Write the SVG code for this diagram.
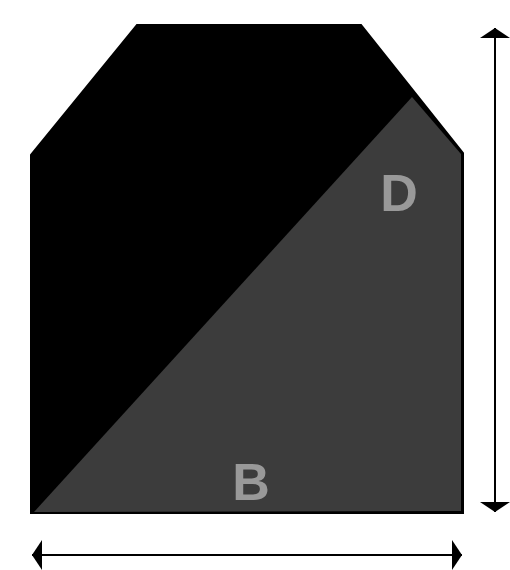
<svg xmlns="http://www.w3.org/2000/svg" width="510" height="570" viewBox="0 0 510 570">
<style>
.lbl{font-family:"Liberation Sans",Arial,sans-serif;font-size:52px;font-weight:bold;fill:#999999;text-anchor:middle}
.dim{stroke:#000;stroke-width:2;fill:none}
</style>
<defs>
<marker id="vh" viewBox="0 0 10 30" refX="10" refY="15" markerWidth="10" markerHeight="30" markerUnits="userSpaceOnUse" orient="auto-start-reverse">
<path d="M0,0 L10,15 L0,30 Z" fill="#000"/>
</marker>
</defs>
<rect width="510" height="570" fill="#fff"/>
<g id="shape">
<polygon points="31,155 137,25 361,25 463,153 463,513 31,513" fill="#000" stroke="#000" stroke-width="2"/>
<polygon points="34,512 412,97 461,154 461,511" fill="#3c3c3c"/>
</g>
<g id="labels">
<text class="lbl" x="399" y="211">D</text>
<text class="lbl" x="251" y="500">B</text>
</g>
<g id="connectors">
<line class="dim" x1="495" y1="28" x2="495" y2="512" marker-start="url(#vh)" marker-end="url(#vh)"/>
<line class="dim" x1="32" y1="555" x2="462" y2="555" marker-start="url(#vh)" marker-end="url(#vh)"/>
</g>
</svg>
